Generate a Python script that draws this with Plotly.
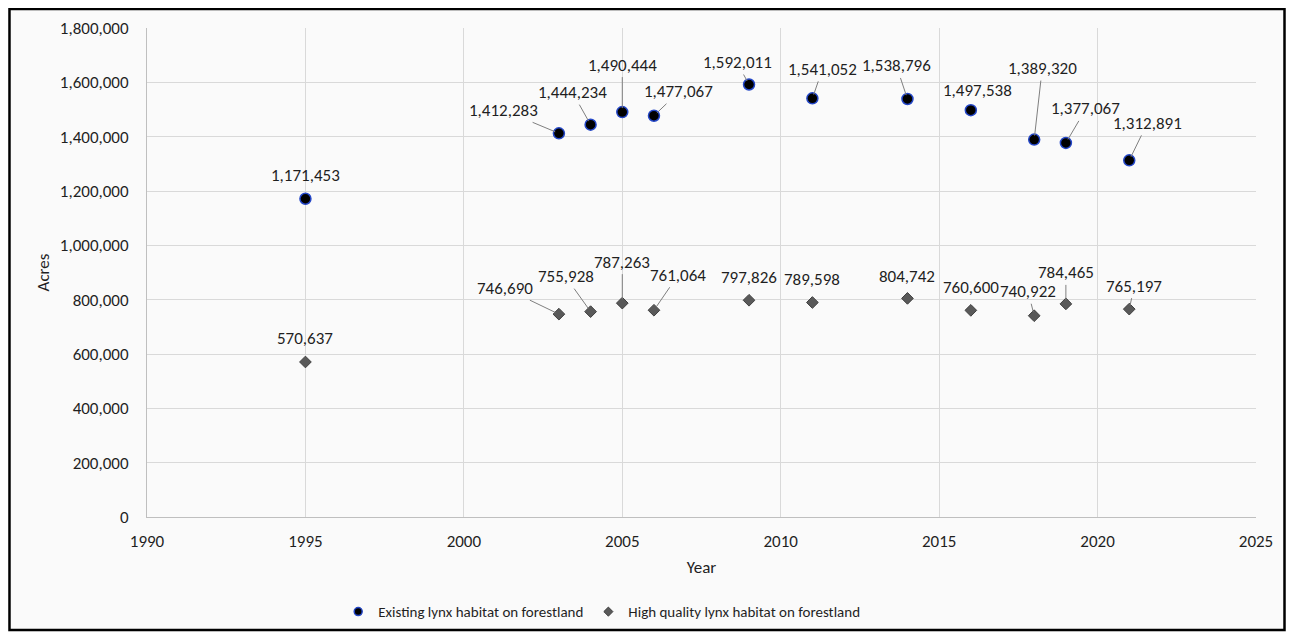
import plotly.graph_objects as go

years = [1995, 2003, 2004, 2005, 2006, 2009, 2011, 2014, 2016, 2018, 2019, 2021]
existing = [1171453, 1412283, 1444234, 1490444, 1477067, 1592011, 1541052, 1538796,
            1497538, 1389320, 1377067, 1312891]
high_quality = [570637, 746690, 755928, 787263, 761064, 797826, 789598, 804742,
                760600, 740922, 784465, 765197]

series_names = ["Existing lynx habitat on forestland", "High quality lynx habitat on forestland"]

y_ticks = [0, 200000, 400000, 600000, 800000, 1000000, 1200000, 1400000, 1600000, 1800000]
x_ticks = [1990, 1995, 2000, 2005, 2010, 2015, 2020, 2025]

# label offsets (pixels) and whether a leader line is drawn
existing_offsets = [(0, -23, False), (-55, -23, True), (-18, -32, True), (0, -47, True),
                    (25, -24, True), (-12, -22, True), (10, -29, True), (-11, -33, True),
                    (7, -20, False), (8, -71, True), (20, -34, True), (18, -37, True)]
hq_offsets = [(0, -23, False), (-54, -26, True), (-25, -35, True), (0, -41, True),
              (24, -35, True), (0, -23, False), (0, -23, False), (0, -22, False),
              (0, -23, False), (-6, -24, True), (0, -31, True), (5, -23, True)]

FONT = "Calibri, Carlito, Lato, sans-serif"
TXT = "#1F1F1F"
FS = 17

circle_marker = dict(symbol="circle", color="#000000", line=dict(color="#2447C8", width=1.5))
diamond_marker = dict(symbol="diamond", color="#595959", line=dict(color="#404040", width=1))

fig = go.Figure()
fig.add_trace(go.Scatter(x=years, y=existing, mode="markers", name=series_names[0],
                         showlegend=False, marker=dict(size=11, **circle_marker)))
fig.add_trace(go.Scatter(x=years, y=high_quality, mode="markers", name=series_names[1],
                         showlegend=False, marker=dict(size=9, **diamond_marker)))
# legend entries with smaller symbols
fig.add_trace(go.Scatter(x=[None], y=[None], mode="markers", name=series_names[0],
                         marker=dict(size=8, **circle_marker)))
fig.add_trace(go.Scatter(x=[None], y=[None], mode="markers", name=series_names[1],
                         marker=dict(size=7, **diamond_marker)))

annotations = []
for vals, offs in ((existing, existing_offsets), (high_quality, hq_offsets)):
    for yr, v, (ax, ay, lead) in zip(years, vals, offs):
        annotations.append(dict(
            x=yr, y=v, xref="x", yref="y", text=f"{v:,}",
            showarrow=True, ax=ax, ay=ay, arrowhead=0, arrowwidth=1,
            arrowcolor="#7F7F7F" if lead else "rgba(0,0,0,0)",
            standoff=4, font=dict(family=FONT, size=FS, color=TXT),
        ))

fig.update_layout(
    width=1278, height=624,
    margin=dict(l=139, r=30, t=20, b=115, autoexpand=False),
    paper_bgcolor="#FAFAFA", plot_bgcolor="#FAFAFA",
    font=dict(family=FONT, size=FS, color=TXT),
    showlegend=True,
    legend=dict(orientation="h", x=0.41, xanchor="center", y=-0.194, yanchor="middle",
                font=dict(family=FONT, size=15, color=TXT), bgcolor="rgba(0,0,0,0)",
                itemwidth=30, tracegroupgap=0),
    annotations=annotations,
    shapes=[dict(type="rect", xref="paper", yref="paper",
                 x0=-0.1240, x1=1.0257, y0=-0.2311, y1=1.0389,
                 line=dict(color="#000000", width=2.5), fillcolor="rgba(0,0,0,0)",
                 layer="below")],
)
fig.update_xaxes(
    range=[1990, 2025], tickvals=x_ticks, ticktext=[str(t) for t in x_ticks],
    showgrid=True, gridcolor="#D9D9D9", gridwidth=1, automargin=False,
    showline=True, linecolor="#BFBFBF", linewidth=1, zeroline=False,
    ticks="outside", ticklen=9, tickcolor="rgba(0,0,0,0)",
    title=dict(text="Year", standoff=9, font=dict(family=FONT, size=FS, color=TXT)),
)
fig.update_yaxes(
    range=[0, 1800000], tickvals=y_ticks, ticktext=[f"{t:,}" for t in y_ticks],
    showgrid=True, gridcolor="#D9D9D9", gridwidth=1, automargin=False,
    showline=True, linecolor="#BFBFBF", linewidth=1, zeroline=False,
    ticks="outside", ticklen=14, tickcolor="rgba(0,0,0,0)",
    title=dict(text="Acres", standoff=5, font=dict(family=FONT, size=FS, color=TXT)),
)

fig.write_html("out.html")
